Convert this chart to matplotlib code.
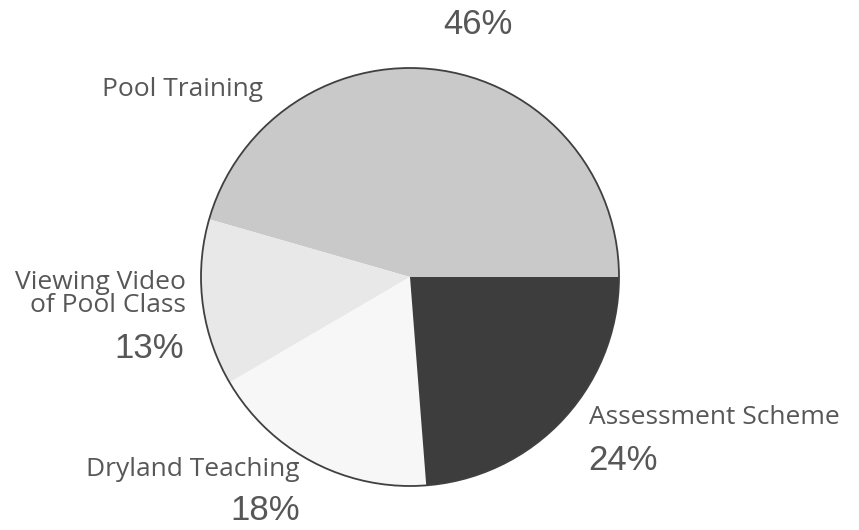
import matplotlib.pyplot as plt
from matplotlib.patches import Circle

# Share of course time by component
components = ["Pool Training", "Viewing Video\nof Pool Class", "Dryland Teaching", "Assessment Scheme"]
shares = [46, 13, 18, 24]
fills = ["#c9c9c9", "#e8e8e8", "#f7f7f7", "#3d3d3d"]

W, H = 859, 530
plt.rcParams['font.family'] = ['Liberation Sans', 'DejaVu Sans']
text_col = "#575757"

fig = plt.figure(figsize=(W / 100, H / 100), dpi=100)
ax = fig.add_axes([0, 0, 1, 1])

cx, cy, r = 410, H - 277, 209
ax.pie(shares, colors=fills, startangle=0, counterclock=True,
       center=(cx, cy), radius=r, frame=True,
       wedgeprops=dict(linewidth=0))
ax.set_xlim(0, W)
ax.set_ylim(0, H)
ax.set_aspect('equal')
ax.axis('off')
ax.add_patch(Circle((cx, cy), r, fill=False, edgecolor="#404040", linewidth=1.3))

lab = dict(color=text_col, fontsize=19, family=['Open Sans', 'DejaVu Sans'])
pct = dict(color=text_col, fontsize=25)

# Pool Training
ax.text(478, H - 25, f"{shares[0]}%", ha='center', va='center', **pct)
ax.text(183, H - 89, components[0], ha='center', va='center', **lab)

# Viewing Video of Pool Class
ax.text(186, H - 294, components[1], ha='right', va='center',
        linespacing=0.9, **lab)
ax.text(184, H - 349, f"{shares[1]}%", ha='right', va='center', **pct)

# Dryland Teaching
ax.text(299, H - 469, components[2], ha='right', va='center', **lab)
ax.text(300, H - 510, f"{shares[2]}%", ha='right', va='center', **pct)

# Assessment Scheme
ax.text(589, H - 417, components[3], ha='left', va='center', **lab)
ax.text(588, H - 460, f"{shares[3]}%", ha='left', va='center', **pct)

fig.savefig("out.png", dpi=100, facecolor="white")
